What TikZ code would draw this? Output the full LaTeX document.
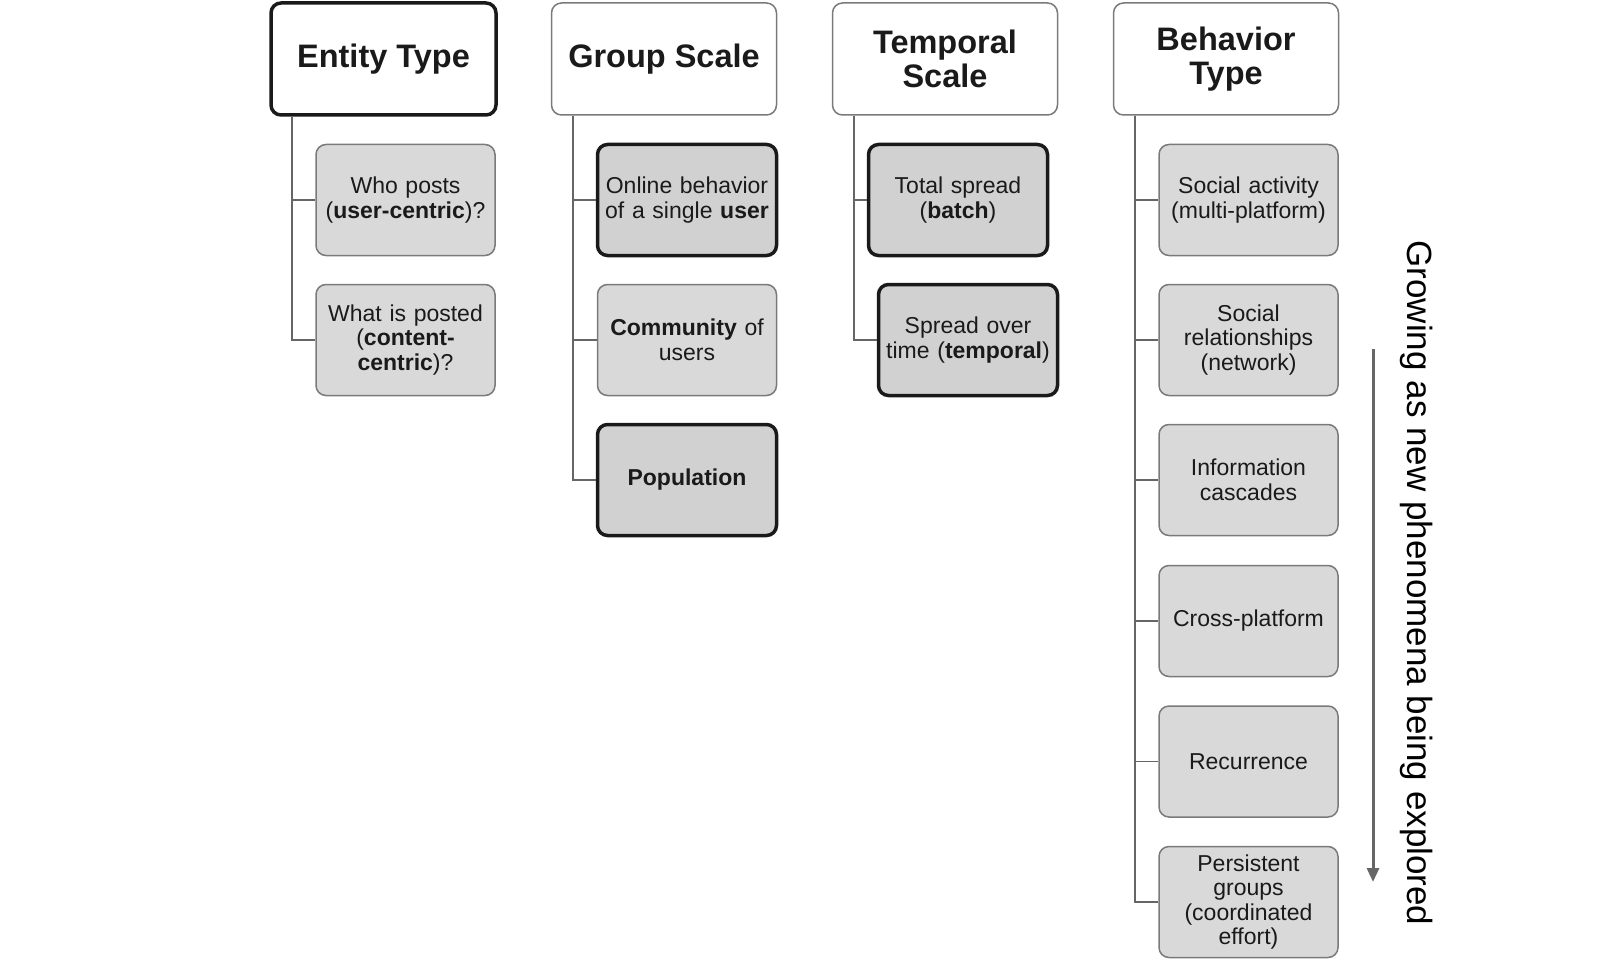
\documentclass[tikz,border=0pt]{standalone}
\usepackage{fontspec}
\setmainfont{Liberation Sans}
\usetikzlibrary{arrows.meta}
\definecolor{txt}{HTML}{1A1A1A}
\definecolor{thinb}{HTML}{7A7A7A}
\definecolor{lightfill}{HTML}{D9D9D9}
\definecolor{darkfill}{HTML}{D1D1D1}
\definecolor{conn}{HTML}{666666}
\tikzset{
  hdr/.style={draw=thinb, line width=1.5pt, fill=white, rounded corners=10pt,
    minimum width=225pt, minimum height=112pt, inner sep=0pt, align=center,
    text=txt, font=\fontsize{32.5}{34}\selectfont\bfseries},
  hdrthick/.style={hdr, draw=txt, line width=3.5pt},
  leaf/.style={draw=thinb, line width=1.5pt, fill=lightfill, rounded corners=10pt,
    minimum width=179pt, minimum height=111pt, inner sep=0pt, align=center,
    text width=174pt, text=txt, font=\fontsize{23}{24.5}\selectfont},
  leafthick/.style={leaf, draw=txt, line width=3.5pt, fill=darkfill},
  link/.style={draw=conn, line width=1.8pt},
  trend/.style={draw=conn, line width=3pt, -{Triangle[length=14pt,width=12pt]}}
}
\begin{document}
\begin{tikzpicture}[x=1pt,y=-1pt]
\useasboundingbox (0,0) rectangle (1608,960);
% headers
\node[hdrthick] (h1) at (383.5,59) {Entity Type};
\node[hdr] (h2) at (664,59) {Group Scale};
\node[hdr] (h3) at (945,59) {Temporal\\Scale};
\node[hdr] (h4) at (1226,59) {Behavior\\Type};
% entity type
\node[leaf] (e1) at (405.5,200) {Who posts\\(\textbf{user-centric})?};
\node[leaf] (e2) at (405.5,340) {What is posted\\(\textbf{content-}\\\textbf{centric})?};
% group scale
\node[leafthick] (g1) at (687,200) {Online behavior\\of a single \textbf{user}};
\node[leaf] (g2) at (687,340) {\textbf{Community} of\\users};
\node[leafthick] (g3) at (687,480) {\textbf{Population}};
% temporal scale
\node[leafthick] (t1) at (958,200) {Total spread\\(\textbf{batch})};
\node[leafthick] (t2) at (968,340) {Spread over\\time (\textbf{temporal})};
% behavior type
\node[leaf] (b1) at (1248.5,200) {Social activity\\(multi-platform)};
\node[leaf] (b2) at (1248.5,340) {Social\\relationships\\(network)};
\node[leaf] (b3) at (1248.5,480) {Information\\cascades};
\node[leaf] (b4) at (1248.5,621) {Cross-platform};
\node[leaf] (b5) at (1248.5,761.5) {Recurrence};
\node[leaf] (b6) at (1248.5,902) {Persistent\\groups\\(coordinated\\effort)};
% connectors
\foreach \h/\c in {h1/e1,h1/e2,h2/g1,h2/g2,h2/g3,h3/t1,h3/t2,h4/b1,h4/b2,h4/b3,h4/b4,h4/b5,h4/b6}
  \draw[link] ([xshift=22.5pt]\h.south west) |- (\c.west);
% trend arrow and label
\coordinate (atop) at (1373,349);
\coordinate (abot) at (1373,882);
\draw[trend] (atop) -- (abot);
\node[rotate=-90, text=black, font=\fontsize{35}{40}\selectfont, inner sep=0pt] (lbl) at (1417,583) {Growing as new phenomena being explored};
\end{tikzpicture}
\end{document}
